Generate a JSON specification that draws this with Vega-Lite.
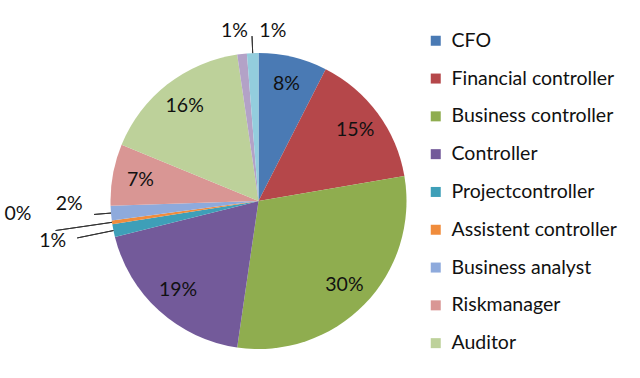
{
  "$schema": "https://vega.github.io/schema/vega-lite/v6.json",
  "autosize": "none",
  "width": 517,
  "height": 354,
  "padding": {"left": 0, "top": 24, "right": 123, "bottom": 0},
  "background": "white",
  "config": {"view": {"stroke": null}, "font": "Lato"},
  "data": {"values": [
    {"order": 1, "role": "CFO", "value": 7.5, "label": "8%"},
    {"order": 2, "role": "Financial controller", "value": 14.8, "label": "15%"},
    {"order": 3, "role": "Business controller", "value": 30.0, "label": "30%"},
    {"order": 4, "role": "Controller", "value": 18.8, "label": "19%"},
    {"order": 5, "role": "Projectcontroller", "value": 1.4, "label": "1%"},
    {"order": 6, "role": "Assistent controller", "value": 0.4, "label": "0%"},
    {"order": 7, "role": "Business analyst", "value": 1.6, "label": "2%"},
    {"order": 8, "role": "Riskmanager", "value": 6.7, "label": "7%"},
    {"order": 9, "role": "Auditor", "value": 16.5, "label": "16%"},
    {"order": 10, "role": "Other A", "value": 1.05, "label": "1%"},
    {"order": 11, "role": "Other B", "value": 1.25, "label": "1%"}
  ]},
  "transform": [
    {"window": [{"op": "sum", "field": "value", "as": "cum"}], "sort": [{"field": "order"}], "frame": [null, 0]},
    {"calculate": "datum.cum - datum.value", "as": "cum0"},
    {"calculate": "datum.cum - datum.value / 2", "as": "mid"}
  ],
  "layer": [
    {
      "mark": {"type": "arc", "radius": 148},
      "encoding": {
        "theta": {"field": "cum0", "type": "quantitative", "scale": {"domain": [0, 100], "range": [0, 6.283185307]}},
        "theta2": {"field": "cum"},
        "color": {
          "field": "role", "type": "nominal",
          "scale": {
            "domain": ["CFO", "Financial controller", "Business controller", "Controller", "Projectcontroller", "Assistent controller", "Business analyst", "Riskmanager", "Auditor", "Other A", "Other B"],
            "range": ["#4a7ab4", "#b5474a", "#8fad4f", "#735a9a", "#3e9fb8", "#f08c3c", "#8eaadc", "#d99694", "#bdd19a", "#b3a2c7", "#93cddd"]
          },
          "legend": {
            "values": ["CFO", "Financial controller", "Business controller", "Controller", "Projectcontroller", "Assistent controller", "Business analyst", "Riskmanager", "Auditor"],
            "orient": "none", "legendX": 426, "legendY": 7, "title": null,
            "symbolType": "square", "symbolSize": 100, "symbolStrokeWidth": 0,
            "labelFontSize": 19.5, "labelColor": "#111", "labelFont": "Lato", "labelLimit": 250,
            "rowPadding": 16.8, "labelOffset": 6, "padding": 0
          }
        },
        "order": {"field": "order"}
      }
    },
    {
      "mark": {"type": "text", "radius": 120, "fontSize": 19.5, "color": "#111"},
      "encoding": {
        "theta": {"field": "mid", "type": "quantitative"},
        "text": {"condition": {"test": "datum.value >= 5", "field": "label"}, "value": ""}
      }
    },
    {
      "mark": {"type": "arc", "radius": 148, "radius2": 165, "fill": null, "stroke": "#333", "strokeWidth": 1},
      "encoding": {
        "theta": {"field": "mid", "type": "quantitative"},
        "theta2": {"field": "mid"},
        "opacity": {"condition": {"test": "datum.order == 7 || datum.order == 11", "value": 1}, "value": 0}
      }
    },
    {
      "mark": {"type": "arc", "radius": 148, "radius2": 185, "fill": null, "stroke": "#333", "strokeWidth": 1},
      "encoding": {
        "theta": {"field": "mid", "type": "quantitative"},
        "theta2": {"field": "mid"},
        "opacity": {"condition": {"test": "datum.order == 5", "value": 1}, "value": 0}
      }
    },
    {
      "mark": {"type": "arc", "radius": 148, "radius2": 205, "fill": null, "stroke": "#333", "strokeWidth": 1},
      "encoding": {
        "theta": {"field": "mid", "type": "quantitative"},
        "theta2": {"field": "mid"},
        "opacity": {"condition": {"test": "datum.order == 6", "value": 1}, "value": 0}
      }
    },
    {
      "mark": {"type": "text", "radius": 170, "fontSize": 19.5, "color": "#111", "dx": 21},
      "encoding": {
        "theta": {"field": "mid", "type": "quantitative"},
        "text": {"condition": {"test": "datum.order == 11", "field": "label"}, "value": ""}
      }
    },
    {
      "mark": {"type": "text", "radius": 171, "fontSize": 19.5, "color": "#111", "dx": -5},
      "encoding": {
        "theta": {"field": "mid", "type": "quantitative"},
        "text": {"condition": {"test": "datum.order == 10", "field": "label"}, "value": ""}
      }
    },
    {
      "mark": {"type": "text", "radius": 190, "fontSize": 19.5, "color": "#111", "dy": -13},
      "encoding": {
        "theta": {"field": "mid", "type": "quantitative"},
        "text": {"condition": {"test": "datum.order == 7", "field": "label"}, "value": ""}
      }
    },
    {
      "mark": {"type": "text", "radius": 240, "fontSize": 19.5, "color": "#111", "dy": -22, "dx": -3},
      "encoding": {
        "theta": {"field": "mid", "type": "quantitative"},
        "text": {"condition": {"test": "datum.order == 6", "field": "label"}, "value": ""}
      }
    },
    {
      "mark": {"type": "text", "radius": 210, "fontSize": 19.5, "color": "#111", "dy": -2},
      "encoding": {
        "theta": {"field": "mid", "type": "quantitative"},
        "text": {"condition": {"test": "datum.order == 5", "field": "label"}, "value": ""}
      }
    }
  ]
}
